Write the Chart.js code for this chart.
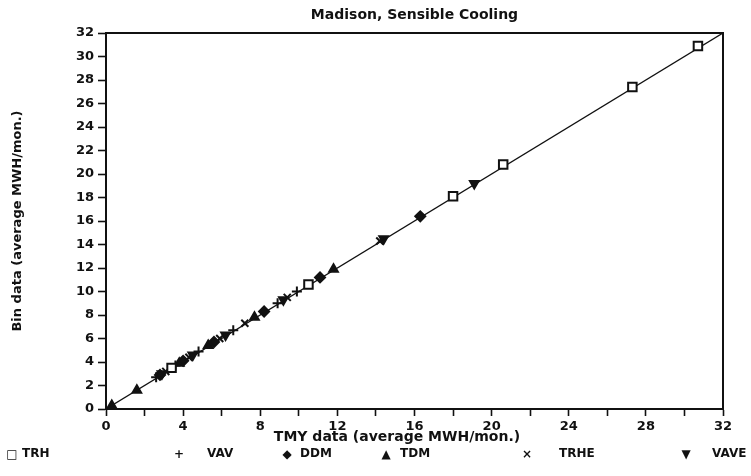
<!DOCTYPE html>
<html>
<head>
<meta charset="utf-8">
<title>Madison, Sensible Cooling</title>
<script src="https://cdn.jsdelivr.net/npm/chart.js@4.4.1/dist/chart.umd.min.js"></script>
<style>
  body { margin: 0; background: #fff; }
  canvas { display: block; }
</style>
</head>
<body>
<canvas id="chart" width="751" height="476"></canvas>
<script>
// TMY (x) vs Bin (y) monthly sensible cooling, MWH/mon.
const seriesNames = ['TRH', 'VAV', 'DDM', 'TDM', 'TRHE', 'VAVE'];

const trhX = [3.4, 10.5, 18.0, 20.6, 27.3, 30.7];
const trhY = [3.5, 10.6, 18.1, 20.8, 27.4, 30.9];
const vavX = [2.6, 3.6, 4.8, 6.6, 8.9, 9.9];
const vavY = [2.7, 3.7, 4.9, 6.7, 9.0, 10.0];
const ddmX = [2.8, 4.0, 5.6, 8.2, 11.1, 16.3];
const ddmY = [2.9, 4.1, 5.7, 8.3, 11.2, 16.4];
const tdmX = [0.3, 1.6, 3.8, 5.3, 7.7, 11.8];
const tdmY = [0.3, 1.6, 3.9, 5.4, 7.8, 11.9];
const trheX = [3.1, 4.3, 5.9, 7.2, 9.4, 14.2];
const trheY = [3.2, 4.4, 6.0, 7.3, 9.5, 14.3];
const vaveX = [2.9, 4.5, 6.2, 9.2, 14.4, 19.1];
const vaveY = [3.0, 4.6, 6.3, 9.3, 14.5, 19.2];

// y = x reference line
const diagX = [0, 32];
const diagY = [0, 32];

const axisMin = 0;
const axisMax = 32;

const FONT = 'DejaVu Sans, sans-serif';

function toPoints(xs, ys) {
  return xs.map((x, i) => ({ x: x, y: ys[i] }));
}

function markerSet(label, xs, ys, style, filled, rotation) {
  return {
    label: label,
    data: toPoints(xs, ys),
    pointStyle: style,
    pointRotation: rotation || 0,
    pointRadius: style === 'rect' ? 6 : 5,
    pointBorderWidth: 2,
    borderColor: '#111',
    backgroundColor: filled ? '#111' : '#fff',
    order: 1
  };
}

// frame, title, axis title and legend row
const decorPlugin = {
  id: 'decor',
  afterDatasetsDraw(chart) {
    const ctx = chart.ctx;
    const a = chart.chartArea;
    ctx.save();
    ctx.strokeStyle = '#111';
    ctx.lineWidth = 2;
    ctx.strokeRect(a.left, a.top, a.right - a.left, a.bottom - a.top);

    ctx.fillStyle = '#111';
    ctx.textAlign = 'center';
    ctx.textBaseline = 'middle';
    ctx.font = 'bold 14px ' + FONT;
    ctx.fillText('Madison, Sensible Cooling', (a.left + a.right) / 2, 15);

    ctx.font = 'bold 14px ' + FONT;
    ctx.fillText('TMY data (average MWH/mon.)', 397, 437);

    // legend: symbol then name, spread over the bottom line
    const symbols = ['\u25A1', '+', '\u25C6', '\u25B2', '\u00D7', '\u25BC'];
    const symX = [12, 179, 287, 386, 527, 686];
    const textX = [22, 207, 300, 400, 559, 712];
    seriesNames.forEach((name, i) => {
      ctx.font = 'bold 12px ' + FONT;
      ctx.textAlign = 'center';
      ctx.fillText(symbols[i], symX[i], 455);
      ctx.font = 'bold 12px ' + FONT;
      ctx.textAlign = 'left';
      ctx.fillText(name, textX[i], 454);
    });
    ctx.restore();
  }
};

const tickFont = { family: FONT, size: 13, weight: 'bold' };

const chart = new Chart(document.getElementById('chart'), {
  type: 'scatter',
  data: {
    datasets: [
      markerSet(seriesNames[0], trhX, trhY, 'rect', false),
      markerSet(seriesNames[1], vavX, vavY, 'cross', false),
      markerSet(seriesNames[2], ddmX, ddmY, 'rectRot', true),
      markerSet(seriesNames[3], tdmX, tdmY, 'triangle', true),
      markerSet(seriesNames[4], trheX, trheY, 'crossRot', false),
      markerSet(seriesNames[5], vaveX, vaveY, 'triangle', true, 180),
      {
        type: 'line',
        label: 'y = x',
        data: toPoints(diagX, diagY),
        borderColor: '#111',
        borderWidth: 1.3,
        pointRadius: 0,
        fill: false,
        order: 2
      }
    ]
  },
  options: {
    responsive: false,
    animation: false,
    layout: { padding: { top: 33, right: 28, left: 0, bottom: 0 } },
    plugins: {
      legend: { display: false },
      tooltip: { enabled: false }
    },
    scales: {
      x: {
        type: 'linear',
        min: axisMin,
        max: axisMax,
        ticks: {
          stepSize: 2,
          autoSkip: false,
          maxRotation: 0,
          padding: 3,
          color: '#111',
          font: tickFont,
          callback: v => (v % 4 === 0 ? v : '')
        },
        grid: { drawOnChartArea: false, tickLength: 7, tickColor: '#111', tickWidth: 1.6 },
        border: { color: '#111', width: 2 },
        afterFit: scale => { scale.height = 67; }
      },
      y: {
        type: 'linear',
        min: axisMin,
        max: axisMax,
        ticks: {
          stepSize: 2,
          autoSkip: false,
          padding: 4,
          color: '#111',
          font: tickFont
        },
        grid: { drawOnChartArea: false, tickLength: 8, tickColor: '#111', tickWidth: 1.6 },
        border: { color: '#111', width: 2 },
        title: {
          display: true,
          text: 'Bin data (average MWH/mon.)',
          color: '#111',
          font: { family: FONT, size: 13, weight: 'bold' },
          padding: { top: 10, bottom: 0 }
        },
        afterFit: scale => { scale.width = 106; }
      }
    }
  },
  plugins: [decorPlugin]
});
</script>
</body>
</html>
